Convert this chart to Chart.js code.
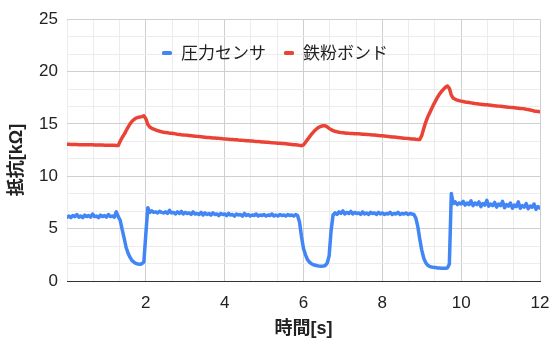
<!DOCTYPE html>
<html>
<head>
<meta charset="utf-8">
<script src="https://cdn.jsdelivr.net/npm/chart.js@4/dist/chart.umd.min.js"></script>
<style>
  html, body { margin: 0; padding: 0; background: #fff; }
  #wrap { width: 552px; height: 340px; position: relative; }
</style>
</head>
<body>
<div id="wrap"><canvas id="c" width="552" height="340"></canvas></div>
<script>
// Sampling interval of the logger, seconds
const SAMPLE_STEP = 0.05;

// Resistance of the pressure sensor [kΩ], one row per second (20 samples)
const pressureSensor = [
  6.10, 6.20, 6.05, 6.25, 6.15, 6.35, 6.10, 6.20, 6.05, 6.30, 6.15, 6.25, 6.10, 6.40, 6.15, 6.20, 6.05, 6.30, 6.15, 6.25,
  6.10, 6.35, 6.15, 6.20, 6.10, 6.60, 6.15, 5.80, 4.90, 4.10, 3.20, 2.65, 2.25, 1.95, 1.80, 1.68, 1.62, 1.60, 1.65, 1.80,
  4.50, 7.00, 6.55, 6.70, 6.55, 6.60, 6.50, 6.65, 6.55, 6.50, 6.60, 6.45, 6.75, 6.50, 6.55, 6.40, 6.60, 6.45, 6.65, 6.40,
  6.55, 6.45, 6.50, 6.35, 6.60, 6.40, 6.45, 6.35, 6.55, 6.30, 6.50, 6.35, 6.45, 6.30, 6.50, 6.35, 6.40, 6.25, 6.45, 6.35,
  6.40, 6.25, 6.45, 6.30, 6.35, 6.20, 6.40, 6.30, 6.35, 6.20, 6.45, 6.25, 6.35, 6.20, 6.30, 6.25, 6.40, 6.20, 6.30, 6.25,
  6.35, 6.20, 6.30, 6.25, 6.40, 6.20, 6.30, 6.20, 6.35, 6.25, 6.30, 6.20, 6.35, 6.25, 6.30, 6.20, 6.35, 6.25, 5.60, 4.20,
  3.10, 2.50, 2.05, 1.80, 1.65, 1.55, 1.50, 1.45, 1.42, 1.40, 1.42, 1.48, 1.70, 2.40, 4.80, 6.30, 6.50, 6.35, 6.60, 6.45,
  6.70, 6.40, 6.55, 6.45, 6.65, 6.40, 6.55, 6.45, 6.50, 6.35, 6.60, 6.40, 6.50, 6.35, 6.55, 6.45, 6.50, 6.35, 6.55, 6.40,
  6.50, 6.35, 6.45, 6.40, 6.55, 6.35, 6.45, 6.40, 6.55, 6.35, 6.45, 6.40, 6.50, 6.35, 6.45, 6.40, 6.35, 6.00, 5.20, 4.00,
  2.95, 2.20, 1.75, 1.50, 1.40, 1.33, 1.30, 1.28, 1.25, 1.25, 1.22, 1.22, 1.22, 1.25, 1.60, 8.35, 7.40, 7.55, 7.30, 7.45,
  7.35, 7.60, 7.25, 7.45, 7.30, 7.65, 7.20, 7.45, 7.30, 7.55, 7.10, 7.40, 7.25, 7.70, 7.15, 7.35, 7.20, 7.50, 7.05, 7.35,
  7.20, 7.60, 7.00, 7.30, 7.15, 7.45, 6.95, 7.25, 7.10, 7.55, 6.95, 7.20, 7.05, 7.40, 6.90, 7.15, 7.05, 7.35, 6.85, 7.10,
  6.95
];

// Resistance of the iron-powder bond [kΩ], same sampling
const ironPowderBond = [
  13.05, 13.05, 13.04, 13.04, 13.03, 13.03, 13.02, 13.02, 13.02, 13.01, 13.01, 13.00, 13.00, 13.00, 12.99, 12.99, 12.98, 12.98, 12.98, 12.97,
  12.97, 12.97, 12.96, 12.96, 12.96, 12.95, 12.95, 13.35, 13.70, 14.00, 14.35, 14.70, 15.00, 15.25, 15.42, 15.55, 15.62, 15.66, 15.70, 15.78,
  15.50, 14.95, 14.70, 14.58, 14.50, 14.42, 14.36, 14.30, 14.25, 14.21, 14.18, 14.15, 14.12, 14.10, 14.08, 14.05, 14.02, 14.00, 13.97, 13.95,
  13.93, 13.91, 13.89, 13.87, 13.85, 13.83, 13.81, 13.79, 13.77, 13.75, 13.73, 13.71, 13.70, 13.68, 13.66, 13.65, 13.63, 13.62, 13.60, 13.58,
  13.57, 13.55, 13.54, 13.52, 13.51, 13.49, 13.48, 13.46, 13.45, 13.43, 13.42, 13.40, 13.39, 13.37, 13.36, 13.34, 13.33, 13.31, 13.30, 13.28,
  13.27, 13.25, 13.24, 13.22, 13.21, 13.19, 13.18, 13.16, 13.15, 13.13, 13.12, 13.10, 13.08, 13.06, 13.04, 13.02, 13.00, 12.98, 12.95, 12.92,
  13.00, 13.25, 13.50, 13.75, 14.00, 14.22, 14.42, 14.58, 14.70, 14.78, 14.82, 14.82, 14.72, 14.58, 14.45, 14.36, 14.30, 14.25, 14.21, 14.18,
  14.16, 14.14, 14.12, 14.10, 14.09, 14.08, 14.07, 14.06, 14.05, 14.04, 14.02, 14.01, 14.00, 13.98, 13.97, 13.95, 13.94, 13.92, 13.90, 13.88,
  13.86, 13.84, 13.82, 13.80, 13.78, 13.76, 13.74, 13.72, 13.70, 13.68, 13.66, 13.64, 13.62, 13.60, 13.58, 13.56, 13.55, 13.53, 13.52, 13.51,
  13.90, 14.55, 15.15, 15.65, 16.05, 16.45, 16.85, 17.20, 17.55, 17.85, 18.10, 18.30, 18.50, 18.62, 18.40, 17.75, 17.45, 17.35, 17.28, 17.22,
  17.18, 17.14, 17.10, 17.07, 17.04, 17.01, 16.98, 16.95, 16.93, 16.90, 16.88, 16.86, 16.84, 16.82, 16.80, 16.78, 16.76, 16.74, 16.72, 16.70,
  16.68, 16.66, 16.64, 16.62, 16.60, 16.58, 16.56, 16.54, 16.52, 16.50, 16.48, 16.46, 16.44, 16.40, 16.37, 16.33, 16.29, 16.24, 16.20, 16.18,
  16.15
];

const seriesNames  = ['圧力センサ', '鉄粉ボンド'];
const seriesColors = ['#4285F4', '#EA4335'];

const xTickLabels = [2, 4, 6, 8, 10, 12];
const yTickLabels = [0, 5, 10, 15, 20, 25];
const xTitle = '時間[s]';
const yTitle = '抵抗[kΩ]';

const LATIN = '"Liberation Sans", Arial, "Noto Sans CJK JP", sans-serif';
const TEXT_COLOR = '#222222';
const MINOR_PER_MAJOR = 3;

function toPoints(values) {
  return values.map((v, i) => ({ x: +(i * SAMPLE_STEP).toFixed(2), y: v }));
}

// major ticks plus evenly spaced minor ticks between them
function buildTicks(majors) {
  const out = [];
  for (let i = 0; i < majors.length; i++) {
    out.push({ value: majors[i], major: true });
    if (i < majors.length - 1) {
      const step = (majors[i + 1] - majors[i]) / MINOR_PER_MAJOR;
      for (let k = 1; k < MINOR_PER_MAJOR; k++) out.push({ value: majors[i] + k * step, major: false });
    }
  }
  return out;
}
const near = (a, b) => Math.abs(a - b) < 1e-6;
const isLabelled = (list, v) => list.some(t => near(t, v));

// legend inside the plot area and the two axis titles
const overlay = {
  id: 'overlay',
  afterDraw(chart) {
    const ctx = chart.ctx;
    ctx.save();
    // legend
    ctx.font = '17px "Noto Sans CJK JP", sans-serif';
    ctx.textBaseline = 'middle';
    ctx.textAlign = 'left';
    let x = 162;
    const y = 53;
    chart.data.datasets.forEach((ds, i) => {
      ctx.fillStyle = ds.borderColor;
      ctx.beginPath();
      ctx.roundRect(x, y - 2, 10, 4, 1.5);
      ctx.fill();
      x += 19;
      ctx.fillStyle = TEXT_COLOR;
      ctx.fillText(ds.label, x, y);
      x += ctx.measureText(ds.label).width + 18;
    });
    // axis titles
    const area = chart.chartArea;
    ctx.font = 'bold 18px "Liberation Sans", "Noto Sans CJK JP", sans-serif';
    ctx.textAlign = 'center';
    ctx.fillStyle = TEXT_COLOR;
    ctx.fillText(xTitle, (area.left + area.right) / 2, 329);
    ctx.translate(17.5, 160);
    ctx.rotate(-Math.PI / 2);
    ctx.fillText(yTitle, 0, 0);
    ctx.restore();
  }
};

new Chart(document.getElementById('c'), {
  type: 'line',
  data: {
    datasets: [
      { label: seriesNames[0], data: toPoints(pressureSensor), borderColor: seriesColors[0], backgroundColor: seriesColors[0] },
      { label: seriesNames[1], data: toPoints(ironPowderBond), borderColor: seriesColors[1], backgroundColor: seriesColors[1] }
    ]
  },
  options: {
    responsive: false,
    animation: false,
    devicePixelRatio: 1,
    layout: { padding: { top: 19, right: 12, bottom: 0, left: 0 } },
    elements: {
      point: { radius: 0, hoverRadius: 0 },
      line: { borderWidth: 3.5, tension: 0, borderJoinStyle: 'round', borderCapStyle: 'round' }
    },
    plugins: { legend: { display: false }, tooltip: { enabled: false } },
    scales: {
      x: {
        type: 'linear',
        min: 0,
        max: 12,
        afterBuildTicks: s => { s.ticks = buildTicks([0, ...xTickLabels]); },
        afterFit: s => { s.height = 59; s.paddingLeft = 0; s.paddingRight = 0; },
        ticks: {
          autoSkip: false,
          maxRotation: 0,
          padding: 12,
          color: TEXT_COLOR,
          font: { family: LATIN, size: 17 },
          callback: v => isLabelled(xTickLabels, v) ? String(Math.round(v)) : ''
        },
        grid: {
          drawTicks: false,
          color: c => (c.tick && c.tick.major && c.tick.value > 0) ? '#cfcfcf' : '#ececec'
        },
        border: { display: true, color: '#333333', width: 1 }
      },
      y: {
        min: 0,
        max: 25,
        afterBuildTicks: s => { s.ticks = buildTicks(yTickLabels); },
        afterFit: s => { s.width = 67; },
        ticks: {
          autoSkip: false,
          padding: 9,
          color: TEXT_COLOR,
          font: { family: LATIN, size: 17 },
          callback: v => isLabelled(yTickLabels, v) ? String(Math.round(v)) : ''
        },
        grid: {
          drawTicks: false,
          color: c => (c.tick && c.tick.major) ? '#cfcfcf' : '#ececec'
        },
        border: { display: false }
      }
    }
  },
  plugins: [overlay]
});
</script>
</body>
</html>
